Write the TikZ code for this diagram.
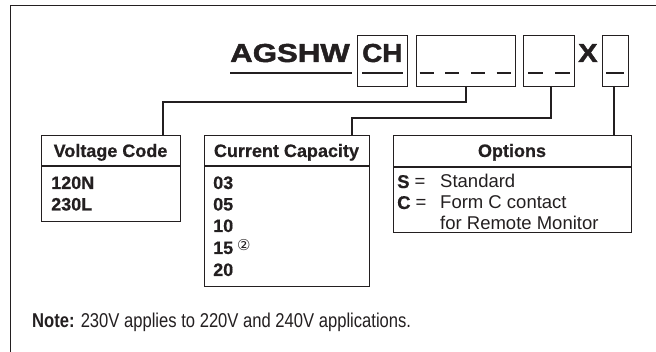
\documentclass[tikz,border=0pt]{standalone}
\usepackage{fontspec}
\setmainfont{Liberation Sans}
\newfontfamily\notefont[FakeStretch=0.83]{Liberation Sans}
\newfontfamily\titlefont[FakeBold=1.6]{Liberation Sans Bold}
\newfontfamily\bodyfont[FakeBold=0.6]{Liberation Sans Bold}
\newfontfamily\dejavu{DejaVu Sans}
\usetikzlibrary{calc}
\definecolor{ink}{HTML}{231F20}
\begin{document}
\begin{tikzpicture}[x=1pt,y=-1pt,
  box/.style={draw=ink, line width=1.3pt, inner sep=0pt, anchor=north west},
  txt/.style={inner sep=0pt, anchor=base west, text=ink},
  hdr/.style={inner sep=0pt, anchor=base, text=ink, font=\bodyfont\fontsize{18}{21}\selectfont},
  body/.style={txt, font=\bodyfont\fontsize{18}{21}\selectfont},
  opt/.style={txt, font=\fontsize{18.5}{21}\selectfont},
  ttl/.style={txt, font=\titlefont\fontsize{26}{30}\selectfont},
  conn/.style={draw=ink, line width=1.1pt},
  dashmark/.style={draw=ink, line width=2.6pt},
  uline/.style={draw=ink, line width=2.2pt},
  divider/.style={draw=ink, line width=1.1pt}]
\useasboundingbox (0,0) rectangle (656,352);
% outer frame
\draw[ink, line width=1.5pt] (10.5,352) -- (10.5,5.5) -- (656,5.5);

% title
\node[ttl] (ag) at (230,62) {\scalebox{1.2}[1]{AGSHW}};
\draw[uline] (230,73) -- (352,73);
\node[box, minimum width=50pt, minimum height=51pt] (ch) at (357,35) {};
\node[ttl] (chtxt) at (362,62) {\scalebox{1.07}[1]{CH}};
\draw[uline] (362,73) -- (403,73);
\node[box, minimum width=99pt, minimum height=51pt] (b2) at (416,35) {};
\foreach \i in {0,1,2,3} {
  \draw[dashmark] ({419.5+\i*25.67},73) -- ({433.5+\i*25.67},73);
}
\node[box, minimum width=51pt, minimum height=51pt] (b3) at (523,35) {};
\draw[dashmark] (528,73) -- (543,73);
\draw[dashmark] (555,73) -- (570,73);
\node[ttl] (xtxt) at (578,62) {\scalebox{1.12}[1]{X}};
\node[box, minimum width=26pt, minimum height=51pt] (b4) at (602,35) {};
\draw[dashmark] (606,73) -- (624,73);

% lower boxes
\node[box, minimum width=139pt, minimum height=86pt] (vc) at (41,135) {};
\draw[divider] (41,166) -- (180,166);
\node[hdr] (vch) at (110.5,157) {Voltage Code};
\node[body] (v1) at (51,189) {120N};
\node[body] (v2) at (51,210.5) {230L};

\node[box, minimum width=165pt, minimum height=151pt] (cc) at (204,135) {};
\draw[divider] (204,166) -- (369,166);
\node[hdr] (cch) at (286.5,157) {Current Capacity};
\node[body] (c1) at (213,189) {03};
\node[body] (c2) at (213,210.5) {05};
\node[body] (c3) at (213,232) {10};
\node[body] (c4) at (213,254) {15};
\node[txt, font=\dejavu\fontsize{15}{17}\selectfont] (fn) at (237,251) {②};
\node[body] (c5) at (213,276) {20};

\node[box, minimum width=238pt, minimum height=97pt] (op) at (393,135) {};
\draw[divider] (393,167) -- (631,167);
\node[hdr] (oph) at (512,157) {Options};
\node[opt] (o1) at (397,188) {{\bodyfont S} =};
\node[opt] (o1t) at (440,188) {Standard};
\node[opt] (o2) at (397,209) {{\bodyfont C} =};
\node[opt] (o2t) at (440,209) {Form C contact};
\node[opt] (o3t) at (440,230) {for Remote Monitor};

% connectors
\coordinate (vcin) at (163,135);
\coordinate (ccin) at (352,135);
\coordinate (opin) at (614,135);
\coordinate (b2out) at (466,86);
\coordinate (b3out) at (551,86);
\coordinate (b4out) at (614,86);
\draw[conn] (b2out) -- (466,102) -| (vcin);
\draw[conn] (b3out) -- (551,118) -| (ccin);
\draw[conn] (b4out) -- (opin);

% note
\node[txt, font=\notefont\fontsize{20}{24}\selectfont] (note) at (32,328) {\textbf{Note:} 230V applies to 220V and 240V applications.};
\end{tikzpicture}
\end{document}
